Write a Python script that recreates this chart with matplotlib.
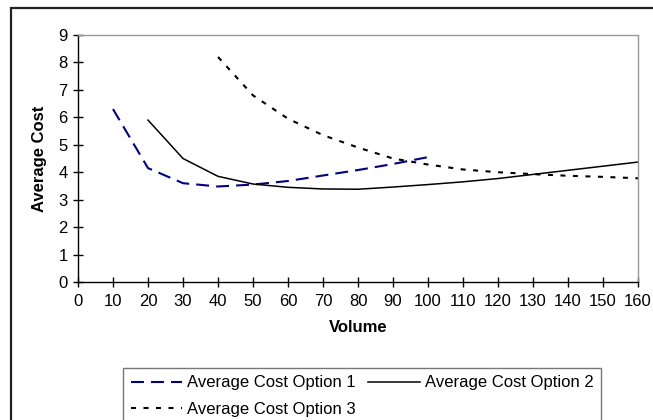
import matplotlib
matplotlib.use("Agg")
import matplotlib.pyplot as plt
from matplotlib.patches import Rectangle

plt.rcParams['font.family'] = ['Liberation Sans', 'DejaVu Sans']

vol1 = [10, 20, 30, 40, 50, 60, 70, 80, 90, 100]
cost1 = [6.3, 4.15, 3.6, 3.48, 3.55, 3.68, 3.88, 4.08, 4.3, 4.55]

vol2 = [20, 30, 40, 50, 60, 70, 80, 90, 100, 110, 120, 130, 140, 150, 160]
cost2 = [5.9, 4.5, 3.85, 3.57, 3.45, 3.39, 3.38, 3.46, 3.55, 3.65, 3.77, 3.92, 4.07, 4.22, 4.37]

vol3 = [40, 50, 60, 70, 80, 90, 100, 110, 120, 130, 140, 150, 160]
cost3 = [8.2, 6.8, 5.95, 5.35, 4.9, 4.5, 4.28, 4.1, 4.0, 3.93, 3.87, 3.83, 3.78]

labels = ["Average Cost Option 1", "Average Cost Option 2", "Average Cost Option 3"]
xticks = list(range(0, 161, 10))
yticks = list(range(0, 10))

W, H = 653, 420
fig = plt.figure(figsize=(W / 100, H / 100), dpi=100)

# outer chart frame (partly cut off)
fig.patches.append(Rectangle((11 / W, -0.2), 1.2, 1.2 - 8 / H,
                             transform=fig.transFigure, fill=False,
                             edgecolor='#222222', lw=1.6, zorder=0))

# title mostly cut off at the top
fig.text(0.505, 1.0 + 4 / H, "Average Cost Using Three Average Cost Options",
         ha='center', va='baseline', fontsize=13, fontweight='bold')

ax = fig.add_axes([78 / W, 1 - 282 / H, 560 / W, 247 / H])
l1, = ax.plot(vol1, cost1, color='#000080', lw=1.5, dashes=(6.2, 3.4))
l2, = ax.plot(vol2, cost2, color='black', lw=1.1)
l3, = ax.plot(vol3, cost3, color='black', lw=1.5, dashes=(2.4, 3.6))

ax.set_xlim(0, 160)
ax.set_ylim(0, 9)
ax.set_xticks(xticks)
ax.set_yticks(yticks)
ax.tick_params(direction='inout', length=7, width=1, labelsize=12, colors='black')
ax.tick_params(axis='x', pad=5)
ax.tick_params(axis='y', pad=4)
for s in ['top', 'right']:
    ax.spines[s].set_color('#999999')
    ax.spines[s].set_linewidth(1)
for s in ['left', 'bottom']:
    ax.spines[s].set_color('black')
    ax.spines[s].set_linewidth(1)

ax.set_xlabel("Volume", fontsize=12, fontweight='bold', labelpad=8)
ax.set_ylabel("Average Cost", fontsize=12, fontweight='bold', labelpad=8)

leg = fig.legend([l1, l3, l2], [labels[0], labels[2], labels[1]], ncol=2,
                 loc='upper left', bbox_to_anchor=(123 / W, 1 - 368 / H),
                 bbox_transform=fig.transFigure, fontsize=12, frameon=True,
                 fancybox=False, edgecolor='#555555', handlelength=3.1,
                 handletextpad=0.3, columnspacing=0.75, labelspacing=0.7,
                 borderpad=0.45, borderaxespad=0)
leg.get_frame().set_linewidth(1)

fig.savefig("out.png", dpi=100)
